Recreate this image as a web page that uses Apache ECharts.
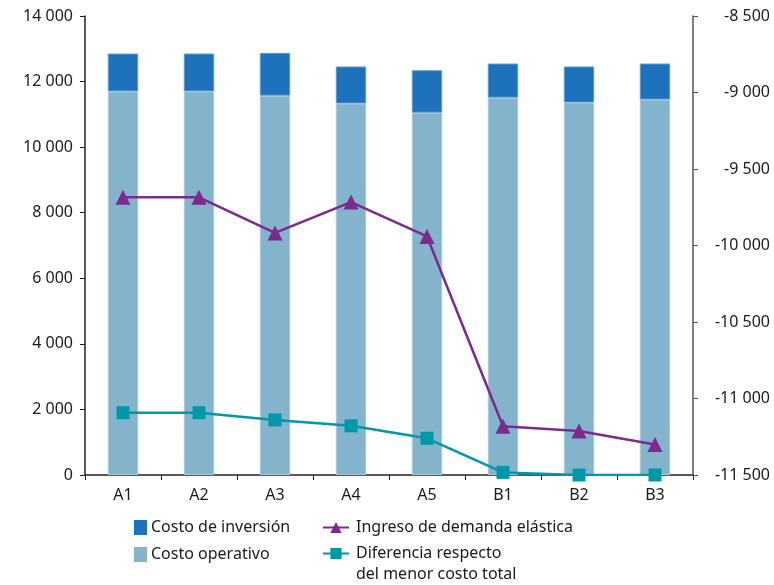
<!DOCTYPE html>
<html>
<head>
<meta charset="utf-8">
<script src="https://cdn.jsdelivr.net/npm/echarts@6/dist/echarts.min.js"></script>
<style>
  html, body { margin: 0; padding: 0; background: #fff; }
  #chart { width: 774px; height: 585px; }
</style>
</head>
<body>
<div id="chart"></div>
<script>
// categories and values
const categories = ['A1', 'A2', 'A3', 'A4', 'A5', 'B1', 'B2', 'B3'];
const costoOperativo = [11700, 11700, 11570, 11330, 11050, 11510, 11360, 11450];
const costoInversion = [1155, 1155, 1305, 1130, 1295, 1040, 1100, 1100];
const ingresoDemanda = [-9685, -9685, -9918, -9716, -9941, -11181, -11213, -11300];
const diferencia = [1900, 1900, 1680, 1500, 1120, 80, 0, 0];

const nameInv = 'Costo de inversión';
const nameOp = 'Costo operativo';
const nameIng = 'Ingreso de demanda elástica';
const nameDif = 'Diferencia respecto\ndel menor costo total';

function withSpaces(v) {
  const s = Math.abs(v).toString().replace(/\B(?=(\d{3})+(?!\d))/g, ' ');
  return (v < 0 ? '-' : '') + s;
}

const font = 'Noto Sans';
const legendText = { fontFamily: font, fontSize: 16, color: '#1a1a1a', lineHeight: 21 };

let chart = echarts.init(document.getElementById('chart'));
chart.setOption({
  animation: false,
  textStyle: { fontFamily: font },
  grid: { left: 85, right: 81, top: 16, bottom: 110 },
  legend: [
    {
      orient: 'vertical',
      left: 134, top: 517, padding: 0,
      icon: 'rect',
      itemWidth: 13, itemHeight: 15, itemGap: 6,
      itemStyle: { borderWidth: 0 },
      textStyle: Object.assign({}, legendText, { padding: [0, 0, 0, -1] }),
      data: [nameInv, nameOp]
    },
    {
      left: 322, top: 517, padding: 0,
      itemWidth: 26, itemHeight: 14,
      textStyle: Object.assign({}, legendText, { padding: [0, 0, 0, 2] }),
      data: [nameIng]
    },
    {
      // leading blank line keeps the icon beside the first line of the name
      left: 322, top: 522, padding: 0,
      itemWidth: 26, itemHeight: 14,
      formatter: '\n{name}',
      textStyle: Object.assign({}, legendText, { padding: [0, 0, 0, 2] }),
      data: [nameDif]
    }
  ],
  xAxis: {
    type: 'category',
    data: categories,
    axisLine: { lineStyle: { color: '#222', width: 1.5 } },
    axisTick: { show: true, length: 5, lineStyle: { color: '#222' } },
    axisLabel: { color: '#1a1a1a', fontSize: 16, margin: 12 }
  },
  yAxis: [
    {
      type: 'value',
      min: 0, max: 14000, interval: 2000,
      axisLine: { show: true, lineStyle: { color: '#222', width: 1.5 } },
      axisTick: { show: true, length: 5, lineStyle: { color: '#222' } },
      splitLine: { show: false },
      axisLabel: { color: '#1a1a1a', fontSize: 16, margin: 12, formatter: withSpaces }
    },
    {
      type: 'value',
      position: 'right',
      min: -11500, max: -8500, interval: 500,
      axisLine: { show: true, lineStyle: { color: '#555', width: 1.5 } },
      axisTick: { show: true, length: 5, lineStyle: { color: '#555' } },
      splitLine: { show: false },
      axisLabel: { color: '#1a1a1a', fontSize: 16, margin: 77, align: 'right', formatter: withSpaces }
    }
  ],
  series: [
    {
      name: nameOp,
      type: 'bar',
      stack: 'costo',
      barWidth: '40%',
      itemStyle: { color: '#83b4cb', borderColor: '#a9cbdc', borderWidth: 1 },
      data: costoOperativo
    },
    {
      name: nameInv,
      type: 'bar',
      stack: 'costo',
      itemStyle: { color: '#1e72bc', borderColor: '#5b9bd0', borderWidth: 1 },
      data: costoInversion
    },
    {
      name: nameIng,
      type: 'line',
      yAxisIndex: 1,
      symbol: 'triangle',
      symbolSize: 15,
      lineStyle: { color: '#7d2a8e', width: 2.5 },
      itemStyle: { color: '#7d2a8e' },
      data: ingresoDemanda
    },
    {
      name: nameDif,
      type: 'line',
      symbol: 'rect',
      symbolSize: 13,
      lineStyle: { color: '#0097a9', width: 2.5 },
      itemStyle: { color: '#0097a9' },
      data: diferencia
    }
  ]
});
</script>
</body>
</html>
